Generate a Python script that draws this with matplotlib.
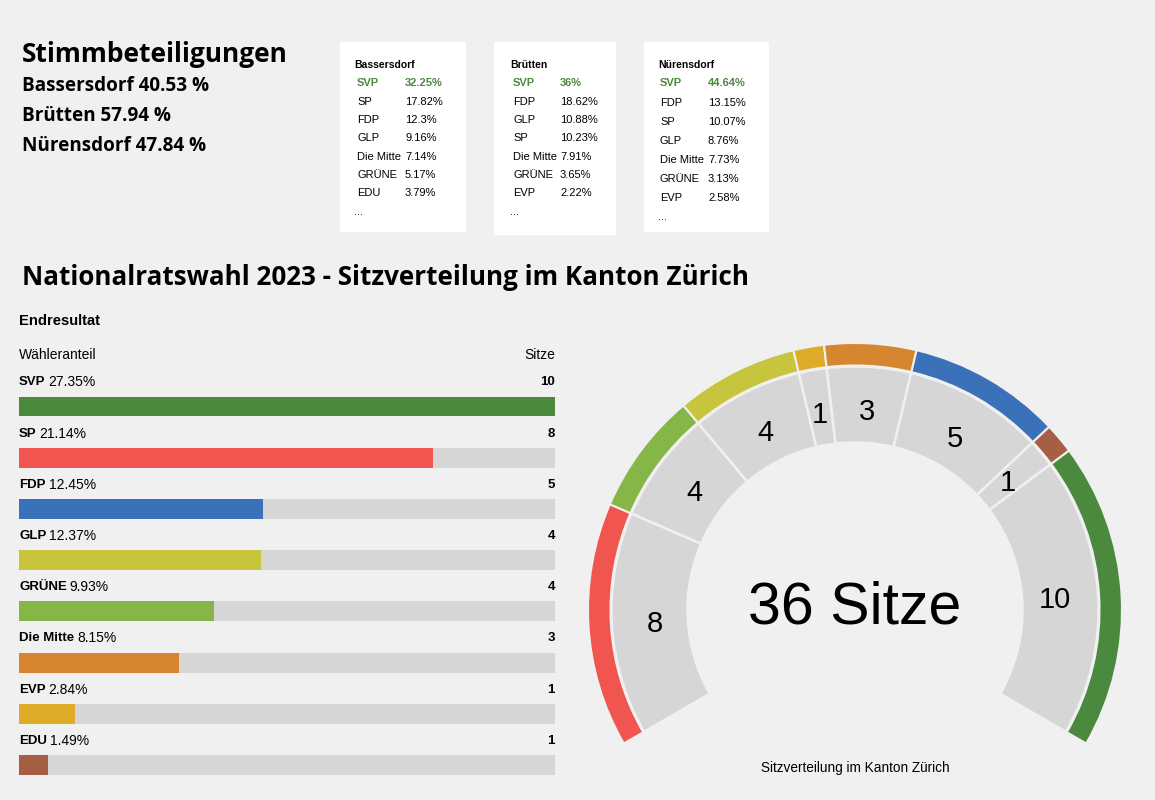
import matplotlib.pyplot as plt
import numpy as np

# Stimmbeteiligung pro Gemeinde
gemeinden = ['Bassersdorf', 'Brütten', 'Nürensdorf']
beteiligung = [40.53, 57.94, 47.84]

# Top-Parteien pro Gemeinde
bassersdorf_parteien = ['SVP', 'SP', 'FDP', 'GLP', 'Die Mitte', 'GRÜNE', 'EDU']
bassersdorf_werte = ['32.25%', '17.82%', '12.3%', '9.16%', '7.14%', '5.17%', '3.79%']
bruetten_parteien = ['SVP', 'FDP', 'GLP', 'SP', 'Die Mitte', 'GRÜNE', 'EVP']
bruetten_werte = ['36%', '18.62%', '10.88%', '10.23%', '7.91%', '3.65%', '2.22%']
nuerensdorf_parteien = ['SVP', 'FDP', 'SP', 'GLP', 'Die Mitte', 'GRÜNE', 'EVP']
nuerensdorf_werte = ['44.64%', '13.15%', '10.07%', '8.76%', '7.73%', '3.13%', '2.58%']

# Kanton Zürich Endresultat
parteien = ['SVP', 'SP', 'FDP', 'GLP', 'GRÜNE', 'Die Mitte', 'EVP', 'EDU']
anteil = [27.35, 21.14, 12.45, 12.37, 9.93, 8.15, 2.84, 1.49]
sitze = [10, 8, 5, 4, 4, 3, 1, 1]
farben = ['#4b8a3e', '#f0554f', '#3a71b8', '#c7c43e', '#86b548', '#d6862e', '#e0ab29', '#a65f44']
bogen_reihenfolge = ['SP', 'GRÜNE', 'GLP', 'EVP', 'Die Mitte', 'FDP', 'EDU', 'SVP']

BG = '#f0f0f0'
GREY = '#d6d6d6'
HEAD = 'Open Sans'
BODY = 'Liberation Sans'
W, H = 1155, 800


def fx(x):
    return x / W


def fy(y):
    return 1 - y / H


fig = plt.figure(figsize=(11.55, 8), dpi=100, facecolor=BG)

# Überschrift Stimmbeteiligungen
fig.text(fx(22), fy(54), 'Stimmbeteiligungen', fontsize=19, fontweight='bold',
         family=HEAD, va='center')
for i, (g, b) in enumerate(zip(gemeinden, beteiligung)):
    fig.text(fx(22), fy(86 + i * 30), f'{g} {b} %', fontsize=13.6, fontweight='bold',
             family=HEAD, va='center')

# weisse Kästchen
boxes = [
    (340, 126, 190, bassersdorf_parteien, bassersdorf_werte, 18.3, (14, 17, 65)),
    (494, 122, 193, bruetten_parteien, bruetten_werte, 18.3, (16, 19, 66)),
    (644, 125, 190, nuerensdorf_parteien, nuerensdorf_werte, 19.1, (14, 16, 64)),
]
for (bx, bw, bh, namen, werte, pitch, (tx, px, vx)), g in zip(boxes, gemeinden):
    ax = fig.add_axes([fx(bx), fy(42 + bh), bw / W, bh / H])
    ax.set_facecolor('white')
    ax.set_xlim(0, bw)
    ax.set_ylim(bh, 0)
    ax.set_xticks([])
    ax.set_yticks([])
    for s in ax.spines.values():
        s.set_visible(False)
    ax.text(tx, 23.5, g, fontsize=7.5, fontweight='bold', family=BODY, va='center')
    for j, (n, v) in enumerate(zip(namen, werte)):
        y = 41.5 + j * pitch
        if j == 0:
            ax.text(px, y, n, fontsize=8, fontweight='bold', color='#4b8a3e', family=BODY, va='center')
            ax.text(vx, y, v, fontsize=8, fontweight='bold', color='#4b8a3e', family=BODY, va='center')
        else:
            ax.text(px, y, n, fontsize=8, family=BODY, va='center')
            ax.text(vx, y, v, fontsize=8, family=BODY, va='center')
    ax.text(tx, 41.5 + 7 * pitch, '...', fontsize=8, family=BODY, va='center')

# Haupttitel
fig.text(fx(22), fy(278), 'Nationalratswahl 2023 - Sitzverteilung im Kanton Zürich',
         fontsize=18.7, fontweight='bold', family=HEAD, va='center')

fig.text(fx(19), fy(321), 'Endresultat', fontsize=10.6, fontweight='bold', family=BODY, va='center')
fig.text(fx(19), fy(355), 'Wähleranteil', fontsize=10, family=BODY, va='center')
fig.text(fx(555), fy(355), 'Sitze', fontsize=10, family=BODY, va='center', ha='right')

# Balken
ax = fig.add_axes([fx(19), fy(780.3), 536 / W, 419.9 / H])
ax.set_facecolor(BG)
y = np.arange(len(parteien))
max_anteil = max(anteil)
ax.barh(y, [max_anteil] * len(y), height=0.39, color=GREY)
ax.barh(y, anteil, height=0.39, color=farben)
ax.set_xlim(0, max_anteil)
ax.set_ylim(7.3, -0.9)
ax.axis('off')
for i, (p, a, s) in enumerate(zip(parteien, anteil, sitze)):
    t = ax.text(0, i - 0.47, p, fontsize=9.5, fontweight='bold', family=BODY, va='center')
    ax.annotate(f'{a}%', xy=(1, 0.5), xycoords=t, xytext=(3, 0), textcoords='offset pixels',
                fontsize=10, family=BODY, va='center', ha='left')
    ax.text(max_anteil, i - 0.47, str(s), fontsize=9.5, fontweight='bold', family=BODY,
            va='center', ha='right')

# Halbkreis Sitzverteilung
cx, cy, R = 855, 610, 280
ax2 = fig.add_axes([fx(cx - R), fy(cy + R), 2 * R / W, 2 * R / H])
ax2.set_aspect('equal')
ax2.axis('off')
idx = [parteien.index(p) for p in bogen_reihenfolge]
b_sitze = np.array([sitze[i] for i in idx])
b_farben = [farben[i] for i in idx]
total = b_sitze.sum()
frac = b_sitze / total * (240 / 360)
ax2.pie(frac, radius=267, colors=b_farben, startangle=210, counterclock=False,
        normalize=False, wedgeprops=dict(width=22.5, edgecolor=BG, linewidth=1.5))
ax2.pie(frac, radius=243.5, colors=[GREY] * len(frac), startangle=210, counterclock=False,
        normalize=False, wedgeprops=dict(width=76, edgecolor=BG, linewidth=1.8))
ax2.set_xlim(-R, R)
ax2.set_ylim(-R, R)
cum = np.cumsum(b_sitze) - b_sitze / 2
for c, s in zip(cum, b_sitze):
    ang = np.deg2rad(210 - c * 240 / total)
    ax2.text(200 * np.cos(ang), 200 * np.sin(ang) - 2, str(s), fontsize=21, family=BODY,
             ha='center', va='center')
ax2.text(0, 2, f'{total} Sitze', fontsize=42.5, family=BODY, ha='center', va='center')

fig.text(fx(855), fy(768), 'Sitzverteilung im Kanton Zürich', fontsize=9.8, family=BODY,
         ha='center', va='center')

fig.savefig('out.png', dpi=100, facecolor=BG)
